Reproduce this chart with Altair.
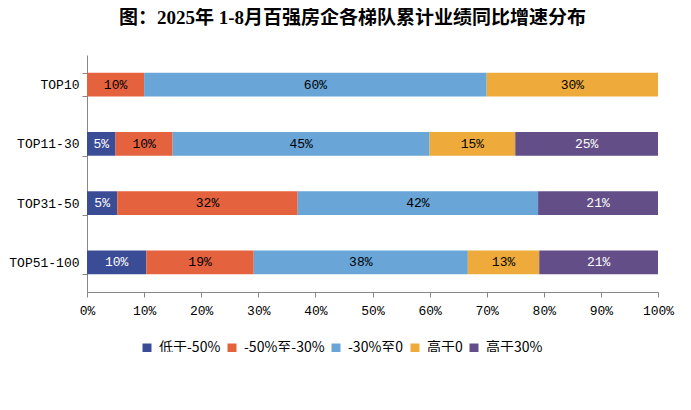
import altair as alt
import pandas as pd

categories = ["TOP10", "TOP11-30", "TOP31-50", "TOP51-100"]
series = ["低于-50%", "-50%至-30%", "-30%至0", "高于0", "高于30%"]
below_m50 = [0, 5, 5.3, 10.4]
m50_m30 = [10, 10, 31.6, 18.8]
m30_0 = [60, 45, 42.1, 37.5]
above_0 = [30, 15, 0, 12.5]
above_30 = [0, 25, 21.0, 20.8]
colors = ["#3B4C97", "#E5623F", "#69A6D7", "#EEAB3B", "#634E88"]
x_ticks = [0, 10, 20, 30, 40, 50, 60, 70, 80, 90, 100]

rows = []
for si, (s, vals) in enumerate(zip(series, [below_m50, m50_m30, m30_0, above_0, above_30])):
    for c, v in zip(categories, vals):
        if v > 0:
            rows.append({"cat": c, "series": s, "order": si, "value": v})
df = pd.DataFrame(rows)

FONT = "Liberation Mono"
CJK = "Noto Sans CJK SC"

base = alt.Chart(df).transform_stack(
    stack="value", groupby=["cat"], sort=[alt.SortField("order")], as_=["x0", "x1"]
).transform_calculate(
    mid="(datum.x0 + datum.x1) / 2", label="round(datum.value) + '%'"
)

yenc = alt.Y(
    "cat:N", sort=categories, title=None,
    scale=alt.Scale(paddingInner=0.6, paddingOuter=0.3),
    axis=alt.Axis(tickBand="extent", ticks=True, tickSize=5, labelPadding=3,
                  labelFontSize=13, labelFont=FONT, labelColor="black",
                  domainColor="#888888", tickColor="#888888"),
)

bars = base.mark_bar().encode(
    x=alt.X("x0:Q", scale=alt.Scale(domain=[0, 100], nice=False),
            axis=alt.Axis(values=x_ticks, labelExpr="datum.value + '%'", grid=False, title=None,
                          tickSize=5, labelPadding=7, labelFontSize=13, labelFont=FONT,
                          labelFlush=False, labelOverlap=False,
                          labelColor="black", domainColor="#888888", tickColor="#888888")),
    x2="x1:Q",
    y=yenc,
    color=alt.Color("series:N", scale=alt.Scale(domain=series, range=colors),
                    legend=alt.Legend(title=None, orient="none", direction="horizontal",
                                      legendX=53, legendY=286, columns=5, symbolType="square",
                                      symbolSize=81, symbolStrokeWidth=0, labelFontSize=14,
                                      labelFont=CJK, labelColor="black", columnPadding=4,
                                      labelOffset=5, padding=0, labelLimit=200)),
)

text = base.mark_text(fontSize=13, font=FONT).encode(
    x="mid:Q",
    y=alt.Y("cat:N", sort=categories),
    text="label:N",
    color=alt.condition("datum.order == 0 || datum.order == 4", alt.value("white"), alt.value("black")),
)

chart = alt.layer(bars, text).properties(
    width=571, height=237,
    autosize=alt.AutoSizeParams(type="none"),
    padding={"left": 79, "top": 47, "right": 25, "bottom": 60},
    title=alt.TitleParams("图：2025年 1-8月百强房企各梯队累计业绩同比增速分布", fontSize=19,
                          font="Liberation Serif, Noto Sans CJK SC", fontWeight="bold",
                          anchor="middle", dx=-20, offset=21, color="black"),
).configure_view(stroke=None)

chart.save("out.html", embed_options={"renderer": "svg", "actions": False})
